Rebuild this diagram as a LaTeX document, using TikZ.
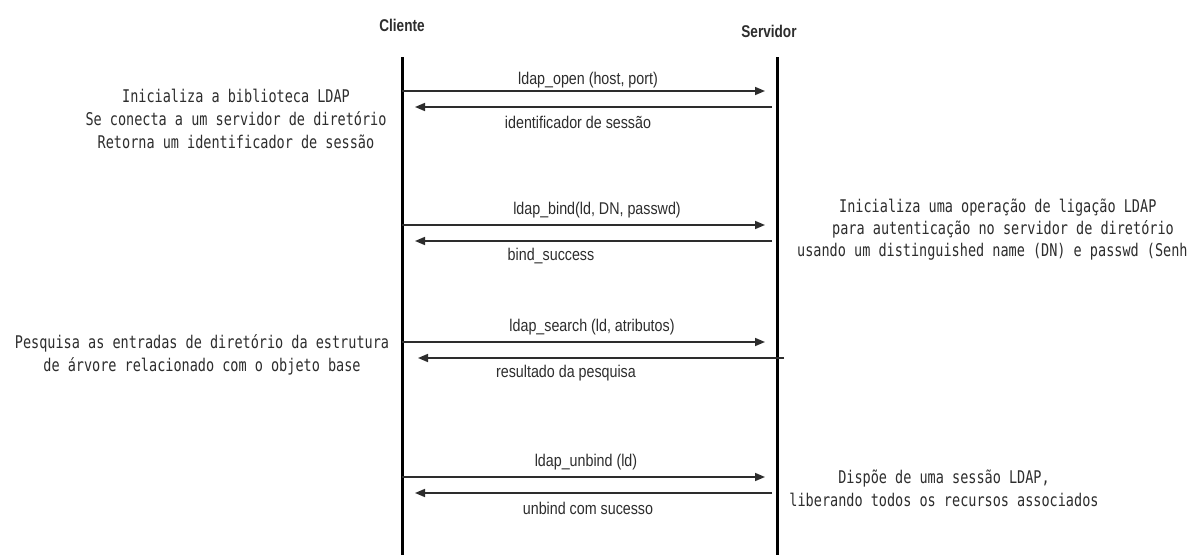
\documentclass[tikz,border=0pt]{standalone}
\usepackage{fontspec}
\setmainfont{Liberation Sans}
\newfontfamily\monofnt[FakeStretch=0.772]{DejaVu Sans Mono}
\newfontfamily\narrowfnt[FakeStretch=0.84]{Liberation Sans}
\newfontfamily\titlefnt[FakeStretch=0.8]{Liberation Sans Bold}
\usetikzlibrary{arrows.meta}
\definecolor{ink}{RGB}{45,45,45}
\begin{document}
\begin{tikzpicture}[x=1pt,y=-1pt,
  lifeline/.style={line width=3pt,black},
  msg/.style={line width=1.6pt,draw=ink,-{Triangle[length=10pt,width=8pt]}},
  lbl/.style={font=\narrowfnt\fontsize{17}{20}\selectfont,text=ink,inner sep=0pt},
  note/.style={font=\monofnt\fontsize{17.5}{23}\selectfont,text=ink,inner sep=0pt,align=center},
  title/.style={font=\titlefnt\fontsize{17}{20}\selectfont,text=ink,inner sep=0pt}]
\useasboundingbox[fill=white] (0,0) rectangle (1189,555);
% titles
\node[title] (cli) at (402,25) {Cliente};
\node[title] (srv) at (769,31) {Servidor};
% lifelines
\coordinate (ct) at (402,57); \coordinate (cb) at (402,555);
\coordinate (st) at (777,57); \coordinate (sb) at (777,555);
\draw[lifeline] (ct) -- (cb);
\draw[lifeline] (st) -- (sb);
% pair 1
\coordinate (m1a) at (402,91);  \coordinate (m1b) at (765,91);
\coordinate (m2a) at (772,107); \coordinate (m2b) at (415,107);
\draw[msg] (m1a) -- (m1b);
\draw[msg] (m2a) -- (m2b);
\node[lbl] (l1) at (588,80) {ldap\_open (host, port)};
\node[lbl] (l2) at (578,122) {identificador de sessão};
% pair 2
\coordinate (m3a) at (402,225); \coordinate (m3b) at (765,225);
\coordinate (m4a) at (772,241); \coordinate (m4b) at (415,241);
\draw[msg] (m3a) -- (m3b);
\draw[msg] (m4a) -- (m4b);
\node[lbl] (l3) at (597,210) {ldap\_bind(ld, DN, passwd)};
\node[lbl] (l4) at (551,256) {bind\_success};
% pair 3
\coordinate (m5a) at (402,342); \coordinate (m5b) at (765,342);
\coordinate (m6a) at (784,358); \coordinate (m6b) at (418,358);
\draw[msg] (m5a) -- (m5b);
\draw[msg] (m6a) -- (m6b);
\node[lbl] (l5) at (592,327) {ldap\_search (ld, atributos)};
\node[lbl] (l6) at (566,373) {resultado da pesquisa};
% pair 4
\coordinate (m7a) at (402,477); \coordinate (m7b) at (765,477);
\coordinate (m8a) at (772,493); \coordinate (m8b) at (415,493);
\draw[msg] (m7a) -- (m7b);
\draw[msg] (m8a) -- (m8b);
\node[lbl] (l7) at (586,462) {ldap\_unbind (ld)};
\node[lbl] (l8) at (588,508) {unbind com sucesso};
% notes
\node[note] (n1) at (236,119) {Inicializa a biblioteca LDAP\\Se conecta a um servidor de diretório\\Retorna um identificador de sessão};
\node[note] (n2) at (202,355) {Pesquisa as entradas de diretório da estrutura\\de árvore relacionado com o objeto base};
\node[note,anchor=base west] (n3a) at (839,212) {Inicializa uma operação de ligação LDAP};
\node[note,anchor=base west] (n3b) at (832,234) {para autenticação no servidor de diretório};
\node[note,anchor=base west] (n3c) at (797,256) {usando um distinguished name (DN) e passwd (Senh};
\node[note] (n4) at (944,488) {Dispõe de uma sessão LDAP,\\liberando todos os recursos associados};
\end{tikzpicture}
\end{document}
